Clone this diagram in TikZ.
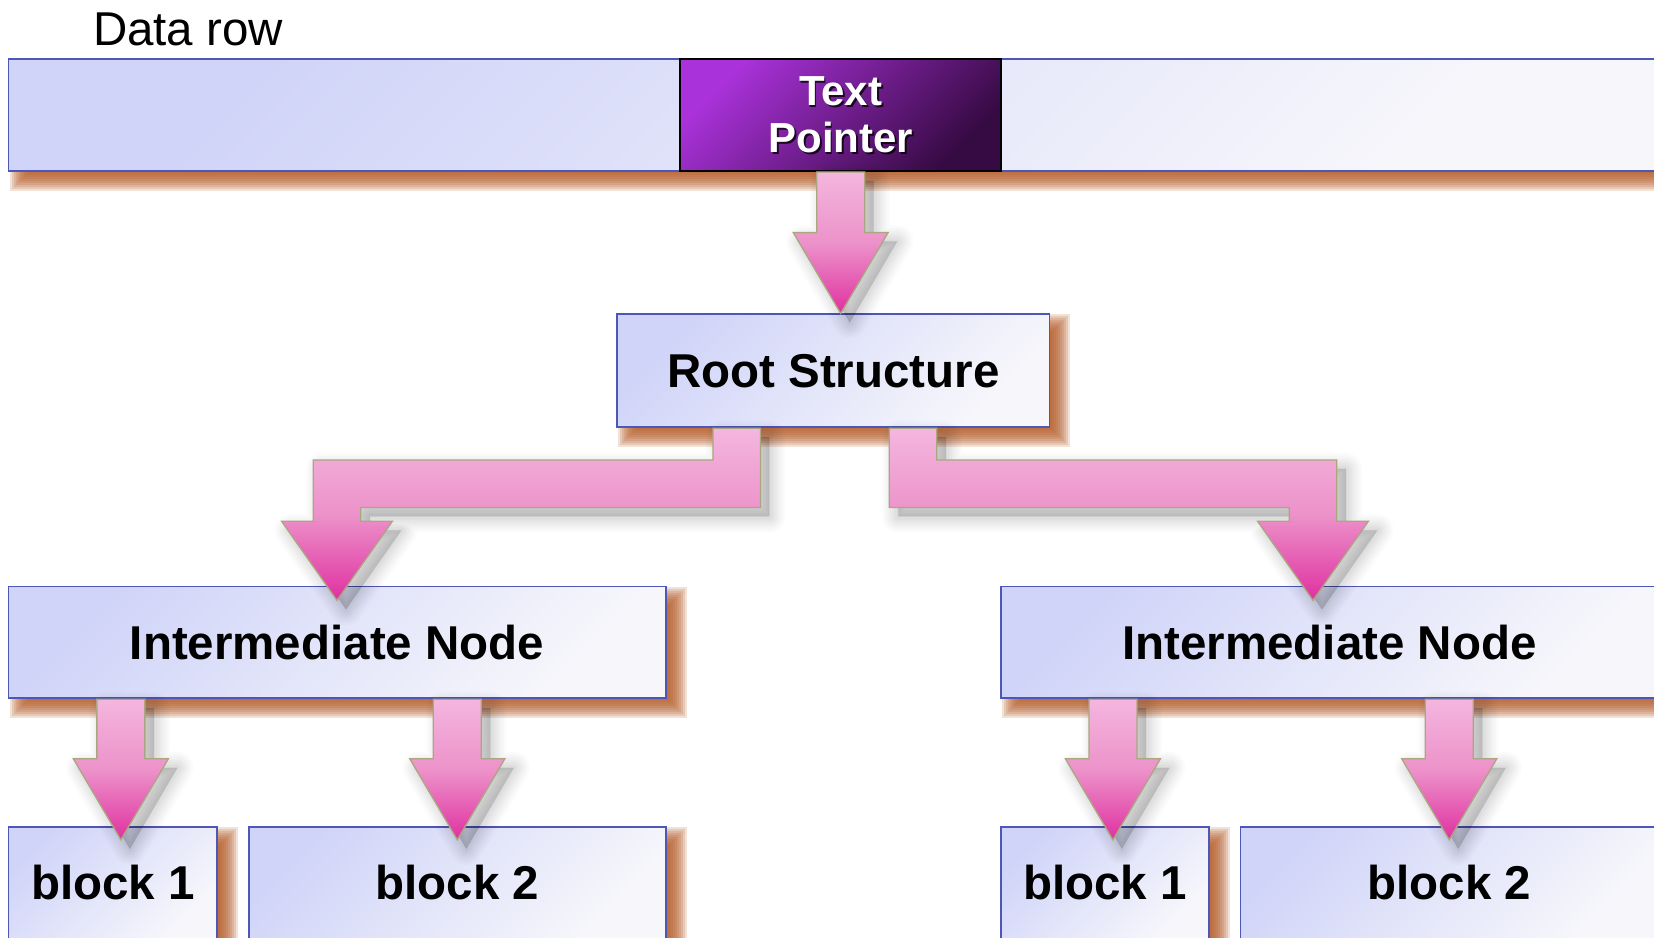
\documentclass[tikz,border=0pt]{standalone}
\usepackage{fontspec}
\setmainfont{Liberation Sans}
\usetikzlibrary{calc}
\pgfdeclarelayer{background}
\pgfsetlayers{background,main}
\definecolor{boxA}{RGB}{208,212,248}
\definecolor{boxB}{RGB}{247,247,251}
\definecolor{boxline}{RGB}{78,86,182}
\definecolor{tpA}{RGB}{170,50,218}
\definecolor{tpB}{RGB}{54,10,66}
\definecolor{pinkL}{RGB}{244,182,222}
\definecolor{pinkM}{RGB}{236,146,202}
\definecolor{pinkD}{RGB}{224,48,160}
\definecolor{arrline}{RGB}{170,166,128}
\definecolor{shcol}{RGB}{178,88,36}
\tikzset{
  box/.style={draw=boxline, line width=1.8pt, top color=boxA, bottom color=boxB,
    shading angle=45, inner sep=0pt, font=\bfseries\fontsize{47.5}{57}\selectfont},
  tpbox/.style={draw=black, line width=1.8pt, top color=tpA, bottom color=tpB,
    shading angle=45, inner sep=0pt},
  tptext/.style={align=center, inner sep=0pt, font=\bfseries\fontsize{42}{47.5}\selectfont},
  pinkarrow/.style={draw=arrline, line width=1.3pt, top color=pinkL, bottom color=pinkD,
    middle color=pinkM},
  arrshadow/.style={draw=black, fill=black, line join=round,
    transform canvas={xshift=9pt,yshift=-9pt}},
  lbl/.style={inner sep=0pt, font=\fontsize{47.5}{57}\selectfont}
}
\newcommand\shadowlayers{32/0.016,27/0.018,22/0.02,17/0.022,12/0.024,7/0.026,2/0.028}
% straight vertical block arrow: #1 options, #2 start, #3 tip
\newcommand\sarrowpath[3]{%
  \path[#1] let \p1=#2, \p2=#3 in
   (\x1-24pt,\y1) -- (\x1-24pt,\y2+81pt) -- (\x1-47.5pt,\y2+81pt) -- (\x1,\y2)
   -- (\x1+47.5pt,\y2+81pt) -- (\x1+24pt,\y2+81pt) -- (\x1+24pt,\y1) -- cycle;}
\newcommand\sarrow[2]{%
  \foreach \lw/\op in \shadowlayers {%
    \sarrowpath{arrshadow,line width=\lw pt,opacity=\op}{#1}{#2}}%
  \sarrowpath{pinkarrow}{#1}{#2}}
% elbow arrow going left
\newcommand\lelbowpath[3]{%
  \path[#1] let \p1=#2, \p2=#3 in
   (\x1-23.75pt,\y1) -- (\x1-23.75pt,\y1-31.75pt) -- (\x2-23.75pt,\y1-31.75pt)
   -- (\x2-23.75pt,\y2+79pt) -- (\x2-55.4pt,\y2+79pt) -- (\x2,\y2)
   -- (\x2+55.4pt,\y2+79pt) -- (\x2+23.75pt,\y2+79pt) -- (\x2+23.75pt,\y1-79.25pt)
   -- (\x1+23.75pt,\y1-79.25pt) -- (\x1+23.75pt,\y1) -- cycle;}
% elbow arrow going right
\newcommand\relbowpath[3]{%
  \path[#1] let \p1=#2, \p2=#3 in
   (\x1-23.75pt,\y1) -- (\x1-23.75pt,\y1-79.25pt) -- (\x2-23.75pt,\y1-79.25pt)
   -- (\x2-23.75pt,\y2+79pt) -- (\x2-55.4pt,\y2+79pt) -- (\x2,\y2)
   -- (\x2+55.4pt,\y2+79pt) -- (\x2+23.75pt,\y2+79pt) -- (\x2+23.75pt,\y1-31.75pt)
   -- (\x1+23.75pt,\y1-31.75pt) -- (\x1+23.75pt,\y1) -- cycle;}
\newcommand\lelbow[2]{%
  \foreach \lw/\op in \shadowlayers {%
    \lelbowpath{arrshadow,line width=\lw pt,opacity=\op}{#1}{#2}}%
  \lelbowpath{pinkarrow}{#1}{#2}}
\newcommand\relbow[2]{%
  \foreach \lw/\op in \shadowlayers {%
    \relbowpath{arrshadow,line width=\lw pt,opacity=\op}{#1}{#2}}%
  \relbowpath{pinkarrow}{#1}{#2}}
\newcommand\boxshadow[1]{%
  \foreach \e in {9,7,5,3,1,-1,-3,-5,-7,-9}{%
    \fill[shcol,opacity=0.18] ($(#1.south west)+(11-\e,10+\e)$) rectangle ($(#1.north east)+(11+\e,10-\e)$);}}

\begin{document}
\begin{tikzpicture}[x=1pt,y=-1pt]
\path[use as bounding box] (0,0) rectangle (1654,937);
\clip (0,0) rectangle (1654,937);

% label
\node[lbl, anchor=base west] (datalbl) at (92.8,45.4) {Data row};

% boxes
\node[box, minimum width=1661.6pt, minimum height=112pt] (bar) at (839.2,115) {};
\node[box, minimum width=432.5pt, minimum height=113pt] (root) at (833.3,370.8) {Root Structure};
\node[box, minimum width=657.2pt, minimum height=111.8pt] (intL) at (337,642.4) {Intermediate Node};
\node[box, minimum width=657pt, minimum height=111.8pt] (intR) at (1329.5,642.4) {Intermediate Node};
\node[box, minimum width=208.9pt, minimum height=112pt] (blkLa) at (112.85,883) {block 1};
\node[box, minimum width=416.6pt, minimum height=112pt] (blkLb) at (457.3,883) {block 2};
\node[box, minimum width=207.8pt, minimum height=112pt] (blkRa) at (1104.9,883) {block 1};
\node[box, minimum width=417.5pt, minimum height=112pt] (blkRb) at (1449.25,883) {block 2};

% box shadows behind the boxes
\begin{pgfonlayer}{background}
\boxshadow{bar}\boxshadow{root}\boxshadow{intL}\boxshadow{intR}
\boxshadow{blkLa}\boxshadow{blkLb}\boxshadow{blkRa}\boxshadow{blkRb}
\end{pgfonlayer}

% text pointer
\node[tpbox, minimum width=320.7pt, minimum height=112pt] (tp) at (840.7,115) {};
\node[tptext, text=black, opacity=0.75] (tpsh) at ($(tp.center)+(1.8,2.0)$) {Text\\Pointer};
\node[tptext, text=white] (tplbl) at (tp.center) {Text\\Pointer};

% arrows
\sarrow{(tp.south)}{(tp.south |- root.north)}
\lelbow{($(root.south)+(-96.6,0)$)}{($(intL.north)+(0,14.7)$)}
\relbow{($(root.south)+(79.7,0)$)}{($(intR.north)+(-16.5,14.7)$)}
\sarrow{($(blkLa.north |- intL.south)+(8,0)$)}{($(blkLa.north)+(8,13.7)$)}
\sarrow{(blkLb.north |- intL.south)}{($(blkLb.north)+(0,13.7)$)}
\sarrow{($(blkRa.north |- intR.south)+(8,0)$)}{($(blkRa.north)+(8,13.7)$)}
\sarrow{(blkRb.north |- intR.south)}{($(blkRb.north)+(0,13.7)$)}
\end{tikzpicture}
\end{document}
